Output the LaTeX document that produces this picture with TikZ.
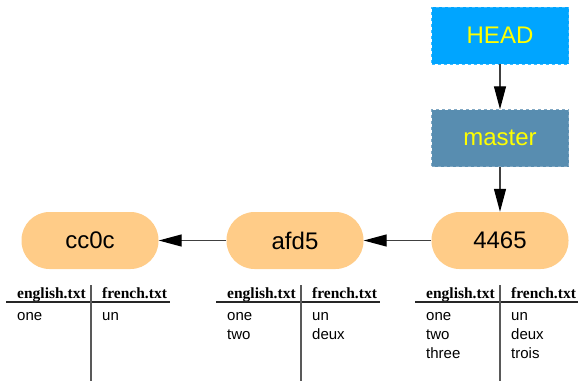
\documentclass[tikz,border=0pt]{standalone}
\usepackage{fontspec}
\setmainfont{Liberation Sans}
\newfontfamily\hdrfont{Liberation Serif}
\usetikzlibrary{arrows.meta}
\definecolor{headblue}{HTML}{00A5FF}
\definecolor{masterblue}{HTML}{588DB0}
\definecolor{commitorange}{HTML}{FFCC88}
\definecolor{reftext}{HTML}{FFFF00}
\begin{document}
\begin{tikzpicture}[x=1pt,y=-1pt,
  ref/.style={fill=#1, draw=#1!75!white, dashed, line width=0.4pt, minimum width=137pt, minimum height=57pt, inner sep=0pt, text=reftext, font=\fontsize{24}{28}\selectfont},
  commit/.style={fill=commitorange, rounded corners=28pt, minimum width=137pt, minimum height=57pt, inner sep=0pt, font=\fontsize{24}{28}\selectfont},
  arr/.style={-{Triangle[length=23pt,width=12pt,color=black]}, line width=1.2pt, draw=black!75},
  hdr/.style={anchor=base west, inner sep=0pt, font=\fontsize{15.5}{18}\hdrfont\bfseries},
  cell/.style={anchor=base west, inner sep=0pt, font=\fontsize{15}{18}\selectfont},
  rule/.style={line width=1.3pt, draw=black!85}]
\useasboundingbox (0,0) rectangle (578,381);
% refs
\node[ref=headblue] (head) at (500,35.5) {HEAD};
\node[ref=masterblue] (master) at (500,138) {master};
% commits
\node[commit] (c4465) at (500,240.5) {4465};
\node[commit] (afd5) at (295,240.5) {afd5};
\node[commit] (cc0c) at (90,240.5) {cc0c};
\draw[arr] (head) -- (master);
\draw[arr] (master) -- (c4465);
\draw[arr] (c4465) -- (afd5);
\draw[arr] (afd5) -- (cc0c);
% file contents under each commit
\foreach \tx/\rows [count=\t] in {6/{one/un}, 216/{one/un,two/deux}, 415/{one/un,two/deux,three/trois}} {
  \node[hdr] (hen-\t) at (\tx+11,298) {english.txt};
  \node[hdr] (hfr-\t) at (\tx+96,298) {french.txt};
  \draw[rule] (\tx,302) -- (\tx+164,302);
  \draw[rule, draw=black!65] (\tx+85,285) -- (\tx+85,381);
  \foreach \en/\fr [count=\r] in \rows {
    \node[cell] (en-\t-\r) at (\tx+11,301+19*\r) {\en};
    \node[cell] (fr-\t-\r) at (\tx+96,301+19*\r) {\fr};
  }
}
\end{tikzpicture}
\end{document}
